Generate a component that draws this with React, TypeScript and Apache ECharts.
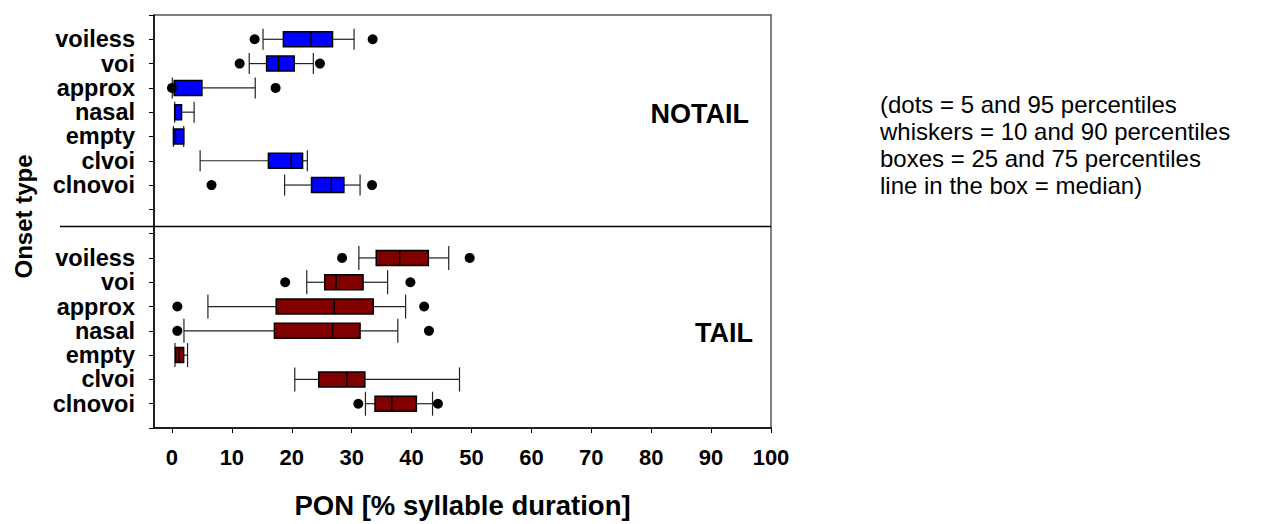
import React, { useEffect, useRef } from "react";
import * as echarts from "echarts";

const categories = ["voiless", "voi", "approx", "nasal", "empty", "clvoi", "clnovoi"];

// NOTAIL panel
const notailP10 = [15.2, 12.9, 0.05, 0.45, 0.25, 4.7, 18.8];
const notailQ1 = [18.6, 15.8, 0.4, 0.45, 0.25, 16.1, 23.3];
const notailMedian = [23.2, 17.8, 0.4, 0.5, 0.58, 19.9, 26.6];
const notailQ3 = [26.8, 20.4, 5.0, 1.6, 1.96, 21.8, 28.7];
const notailP90 = [30.4, 23.6, 13.9, 3.7, 1.96, 22.6, 31.4];
const notailP5 = [13.8, 11.3, 0.0, null, null, null, 6.6];
const notailP95 = [33.5, 24.7, 17.3, null, null, null, 33.4];

// TAIL panel
const tailP10 = [31.2, 22.5, 6.0, 2.0, 0.5, 20.5, 32.3];
const tailQ1 = [34.1, 25.5, 17.4, 17.1, 0.6, 24.5, 33.9];
const tailMedian = [38.0, 27.4, 27.1, 26.8, 1.2, 29.2, 36.7];
const tailQ3 = [42.8, 31.9, 33.6, 31.4, 1.95, 32.2, 40.8];
const tailP90 = [46.2, 36.0, 39.0, 37.7, 2.6, 48.0, 43.5];
const tailP5 = [28.4, 18.9, 0.9, 0.9, null, null, 31.1];
const tailP95 = [49.7, 39.8, 42.1, 42.9, null, null, 44.4];

const xTicks = [0, 10, 20, 30, 40, 50, 60, 70, 80, 90, 100];

const FONT = "'Liberation Sans', Arial, Helvetica, sans-serif";

// slot positions on the shared vertical axis
const notailSlots = categories.map((_, i) => i + 1);
const tailSlots = categories.map((_, i) => i + 10);
const slotLabels: Record<number, string> = {};
categories.forEach((c, i) => {
  slotLabels[notailSlots[i]] = c;
  slotLabels[tailSlots[i]] = c;
});

function boxData(slots: number[], p10: number[], q1: number[], med: number[], q3: number[], p90: number[]) {
  return slots.map((s, i) => [s, p10[i], q1[i], med[i], q3[i], p90[i]]);
}
function dotData(slots: number[], lo: (number | null)[], hi: (number | null)[]) {
  const out: number[][] = [];
  slots.forEach((s, i) => {
    if (lo[i] != null) out.push([lo[i] as number, s]);
    if (hi[i] != null) out.push([hi[i] as number, s]);
  });
  return out;
}

function makeRenderItem(color: string, capH: number) {
  return (params: any, api: any) => {
    const slot = api.value(0);
    const lo = api.coord([api.value(1), slot]);
    const q1 = api.coord([api.value(2), slot]);
    const md = api.coord([api.value(3), slot]);
    const q3 = api.coord([api.value(4), slot]);
    const hi = api.coord([api.value(5), slot]);
    const y = lo[1];
    const bh = 15;
    const wStyle = { stroke: "#222", lineWidth: 1.2 };
    return {
      type: "group",
      children: [
        { type: "line", shape: { x1: lo[0], y1: y, x2: q1[0], y2: y }, style: wStyle },
        { type: "line", shape: { x1: q3[0], y1: y, x2: hi[0], y2: y }, style: wStyle },
        { type: "line", shape: { x1: lo[0], y1: y - capH / 2, x2: lo[0], y2: y + capH / 2 }, style: wStyle },
        { type: "line", shape: { x1: hi[0], y1: y - capH / 2, x2: hi[0], y2: y + capH / 2 }, style: wStyle },
        {
          type: "rect",
          shape: { x: q1[0], y: y - bh / 2, width: Math.max(q3[0] - q1[0], 0.5), height: bh },
          style: { fill: color, stroke: "#000", lineWidth: 1.5 },
        },
        { type: "line", shape: { x1: md[0], y1: y - bh / 2, x2: md[0], y2: y + bh / 2 }, style: { stroke: "#000", lineWidth: 1.5 } },
      ],
    };
  };
}

export default function App() {
  const ref = useRef<HTMLDivElement>(null);
  useEffect(() => {
    if (!ref.current) return;
    const chart = echarts.init(ref.current, null, { renderer: "svg" });
    const option: any = {
      animation: false,
      backgroundColor: "#fff",
      textStyle: { fontFamily: FONT },
      grid: {
        left: 154,
        right: 503,
        top: 15,
        bottom: 90,
        show: true,
        borderColor: "#555",
        borderWidth: 1.5,
        backgroundColor: "transparent",
      },
      xAxis: {
        type: "value",
        min: -3,
        max: 100,
        position: "bottom",
        axisLine: { show: true, onZero: false, lineStyle: { color: "#000", width: 1.5 } },
        axisTick: { show: true, customValues: xTicks, length: 5, inside: false, lineStyle: { color: "#000", width: 1 } },
        axisLabel: {
          customValues: xTicks,
          margin: 18,
          fontSize: 22,
          fontWeight: "bold",
          color: "#000",
          fontFamily: FONT,
        },
        splitLine: { show: false },
        name: "PON [% syllable duration]",
        nameLocation: "middle",
        nameGap: 63,
        nameTextStyle: { fontSize: 27.5, fontWeight: "bold", color: "#000", fontFamily: FONT },
      },
      yAxis: {
        type: "value",
        min: 0,
        max: 17,
        interval: 1,
        inverse: true,
        position: "left",
        axisLine: { show: true, onZero: false, lineStyle: { color: "#000", width: 1.5 } },
        axisTick: { show: true, length: 5, inside: false, lineStyle: { color: "#000", width: 1 } },
        axisLabel: {
          margin: 19,
          fontSize: 23.5,
          fontWeight: "bold",
          color: "#000",
          fontFamily: FONT,
          formatter: (v: number) => slotLabels[v] || "",
        },
        splitLine: { show: false },
      },
      series: [
        {
          type: "custom",
          name: "NOTAIL",
          renderItem: makeRenderItem("#0000FF", 21),
          encode: { x: [1, 2, 3, 4, 5], y: 0 },
          data: boxData(notailSlots, notailP10, notailQ1, notailMedian, notailQ3, notailP90),
          z: 2,
        },
        {
          type: "custom",
          name: "TAIL",
          renderItem: makeRenderItem("#800000", 24),
          encode: { x: [1, 2, 3, 4, 5], y: 0 },
          data: boxData(tailSlots, tailP10, tailQ1, tailMedian, tailQ3, tailP90),
          z: 2,
        },
        {
          type: "scatter",
          symbol: "circle",
          symbolSize: 10,
          itemStyle: { color: "#000", opacity: 1 },
          data: [...dotData(notailSlots, notailP5, notailP95), ...dotData(tailSlots, tailP5, tailP95)],
          z: 3,
        },
      ],
      graphic: [
        {
          type: "line",
          shape: { x1: 60, y1: 226.5, x2: 771, y2: 226.5 },
          style: { stroke: "#000", lineWidth: 1.5 },
          z: 10,
        },
        {
          type: "text",
          x: 23,
          y: 216.5,
          rotation: Math.PI / 2,
          style: {
            text: "Onset type",
            fontSize: 24,
            fontWeight: "bold",
            fill: "#000",
            fontFamily: FONT,
            align: "center",
            verticalAlign: "middle",
          },
        },
        {
          type: "text",
          x: 749,
          y: 114,
          style: {
            text: "NOTAIL",
            fontSize: 27,
            fontWeight: "bold",
            fill: "#000",
            fontFamily: FONT,
            align: "right",
            verticalAlign: "middle",
          },
        },
        {
          type: "text",
          x: 753,
          y: 333,
          style: {
            text: "TAIL",
            fontSize: 27,
            fontWeight: "bold",
            fill: "#000",
            fontFamily: FONT,
            align: "right",
            verticalAlign: "middle",
          },
        },
        {
          type: "text",
          x: 880,
          y: 90.5,
          style: {
            text: "(dots = 5 and 95 percentiles\nwhiskers = 10 and 90 percentiles\nboxes = 25 and 75 percentiles\nline in the box = median)",
            fontSize: 24,
            lineHeight: 27,
            fill: "#000",
            fontFamily: FONT,
            align: "left",
            verticalAlign: "top",
          },
        },
      ],
    };
    chart.setOption(option);
    return () => chart.dispose();
  }, []);
  return (
    <div
      ref={ref}
      style={{ position: "fixed", left: 0, top: 0, width: 1274, height: 524, background: "#fff" }}
    />
  );
}
